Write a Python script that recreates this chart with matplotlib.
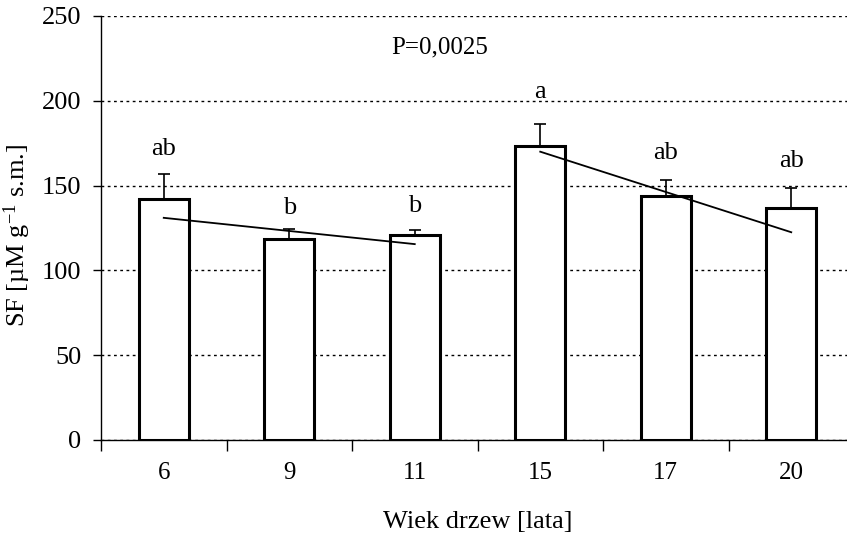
import matplotlib.pyplot as plt
import numpy as np

plt.rcParams['font.family'] = ['Liberation Serif', 'DejaVu Serif']
plt.rcParams['mathtext.fontset'] = 'custom'
plt.rcParams['mathtext.rm'] = 'Liberation Serif'
plt.rcParams['mathtext.it'] = 'Liberation Serif:italic'

# data
ages = ['6', '9', '11', '15', '17', '20']
sf_mean = [142, 118.5, 121, 173.5, 144, 137]
sf_err = [15, 6, 3, 13, 9.5, 11.5]
letters = ['ab', 'b', 'b', 'a', 'ab', 'ab']
letter_y = [171.5, 137, 138, 205, 169.5, 164.5]

# trend lines (start/end of each age group)
trend1_x = [0, 2]
trend1_y = [131, 115.5]
trend2_x = [3, 5]
trend2_y = [170, 122.5]

p_text = 'P=0,0025'

fig = plt.figure(figsize=(8.47, 5.34), dpi=100)
ax = fig.add_axes([101 / 847, 1 - 440 / 534, 746 / 847, 424 / 534])

x = np.arange(len(ages))
ax.bar(x, sf_mean, width=0.4, color='white', edgecolor='black', linewidth=2.2, zorder=3)
ax.errorbar(x, sf_mean, yerr=[[0] * len(x), sf_err], fmt='none', ecolor='black',
            elinewidth=1.2, capsize=4, capthick=1.2, zorder=2)

ax.plot(trend1_x, trend1_y, color='black', lw=1.3, zorder=4)
ax.plot(trend2_x, trend2_y, color='black', lw=1.3, zorder=4)

for xi, lab, ly in zip(x, letters, letter_y):
    ax.text(xi, ly, lab, ha='center', va='center', fontsize=19)

ax.text(2.2, 231.5, p_text, ha='center', va='center', fontsize=18)

ax.set_ylim(0, 250)
ax.set_xlim(-0.5, -0.5 + 746 / 125.5)
ax.set_yticks(np.arange(0, 251, 50))
ax.yaxis.grid(True, color='black', linestyle=(0, (2, 2.5)), linewidth=1, zorder=0)
ax.set_axisbelow(True)

ax.set_xticks(np.arange(-0.5, 5, 1))
ax.set_xticklabels([])
ax.set_xticks(x, minor=True)
ax.set_xticklabels(ages, minor=True, fontsize=18)
ax.tick_params(axis='x', which='major', direction='out', length=8, width=1)
ax.tick_params(axis='x', which='minor', length=0, pad=16)
ax.tick_params(axis='y', direction='out', length=6, width=1, pad=8, labelsize=19)

for s in ['top', 'right']:
    ax.spines[s].set_visible(False)
ax.spines['left'].set_linewidth(1)
ax.spines['bottom'].set_linewidth(1)

ax.set_ylabel(r'SF [µM g$^{-1}$ s.m.]', fontsize=19)
ax.yaxis.set_label_coords(-(101 - 33) / 746, 0.483)
ax.set_xlabel('Wiek drzew [lata]', fontsize=19)
ax.xaxis.set_label_coords((478 - 101) / 746, -0.168)

fig.savefig('out.png', dpi=100)
